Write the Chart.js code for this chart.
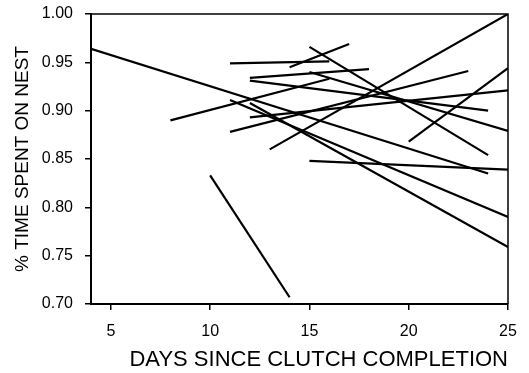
<!DOCTYPE html>
<html>
<head>
<meta charset="utf-8">
<script src="https://cdn.jsdelivr.net/npm/chart.js@4"></script>
<style>
  body { margin: 0; background: #fff; }
  #wrap { width: 529px; height: 373px; }
</style>
</head>
<body>
<div id="wrap"><canvas id="chart"></canvas></div>
<script>
// one regression line per bird: start and end of each segment
const startDay = [4, 15, 11, 14, 8, 12, 12, 13, 11, 20, 15, 11, 12, 12, 15, 10];
const startPct = [0.964, 0.966, 0.949, 0.945, 0.890, 0.934, 0.931, 0.860, 0.878, 0.868, 0.848, 0.911, 0.908, 0.893, 0.940, 0.833];
const endDay = [24, 24, 16, 17, 16, 18, 24, 25, 23, 25, 25, 25, 25, 25, 25, 14];
const endPct = [0.835, 0.854, 0.951, 0.969, 0.933, 0.943, 0.900, 1.000, 0.941, 0.944, 0.839, 0.790, 0.759, 0.921, 0.879, 0.707];

const xTicks = [5, 10, 15, 20, 25];
const yTicks = [0.70, 0.75, 0.80, 0.85, 0.90, 0.95, 1.00];

const datasets = startDay.map((d, i) => ({
  data: [
    { x: d, y: startPct[i] },
    { x: endDay[i], y: endPct[i] },
  ],
  showLine: true,
  borderColor: "#000",
  borderWidth: 2.2,
  pointRadius: 0,
  fill: false,
}));

// box round the plot area (top and right sides)
const frame = {
  id: "frame",
  afterDraw(chart) {
    const { ctx, chartArea: a } = chart;
    ctx.save();
    ctx.strokeStyle = "#000";
    ctx.lineWidth = 1.5;
    ctx.beginPath();
    ctx.moveTo(a.left, a.top);
    ctx.lineTo(a.right, a.top);
    ctx.lineTo(a.right, a.bottom);
    ctx.stroke();
    ctx.restore();
  },
};

const ctx = document.getElementById("chart").getContext("2d");
new Chart(ctx, {
  type: "scatter",
  data: { datasets },
  plugins: [frame],
  options: {
    responsive: true,
    maintainAspectRatio: false,
    animation: false,
    layout: { padding: { top: 14, right: 21, left: 0, bottom: 0 } },
    plugins: {
      legend: { display: false },
      tooltip: { enabled: false },
    },
    scales: {
      x: {
        type: "linear",
        min: 4,
        max: 25,
        afterFit: (s) => { s.height = 69; },
        afterBuildTicks: (s) => { s.ticks = xTicks.map((v) => ({ value: v })); },
        grid: { drawOnChartArea: false, color: "#000", tickLength: 6, lineWidth: 1.5 },
        border: { display: true, color: "#000", width: 2 },
        ticks: {
          color: "#000",
          padding: 12,
          font: { family: "Liberation Sans, Arial, sans-serif", size: 16 },
        },
        title: {
          display: true,
          text: "DAYS SINCE CLUTCH COMPLETION",
          align: "end",
          color: "#000",
          padding: { top: 0, bottom: 0 },
          font: { family: "Liberation Sans, Arial, sans-serif", size: 22 },
        },
      },
      y: {
        type: "linear",
        min: 0.7,
        max: 1.0,
        afterFit: (s) => {
          s.width = 91;
          s.paddingTop = 4;
          s.paddingBottom = 4;
        },
        afterBuildTicks: (s) => { s.ticks = yTicks.map((v) => ({ value: v })); },
        grid: { drawOnChartArea: false, color: "#000", tickLength: 6, lineWidth: 1.5 },
        border: { display: true, color: "#000", width: 2 },
        ticks: {
          color: "#000",
          padding: 12,
          callback: (v) => v.toFixed(2),
          font: { family: "Liberation Sans, Arial, sans-serif", size: 16 },
        },
        title: {
          display: true,
          text: "% TIME SPENT ON NEST",
          color: "#000",
          padding: { top: 11, bottom: 0 },
          font: { family: "Liberation Sans, Arial, sans-serif", size: 19 },
        },
      },
    },
  },
});
</script>
</body>
</html>
